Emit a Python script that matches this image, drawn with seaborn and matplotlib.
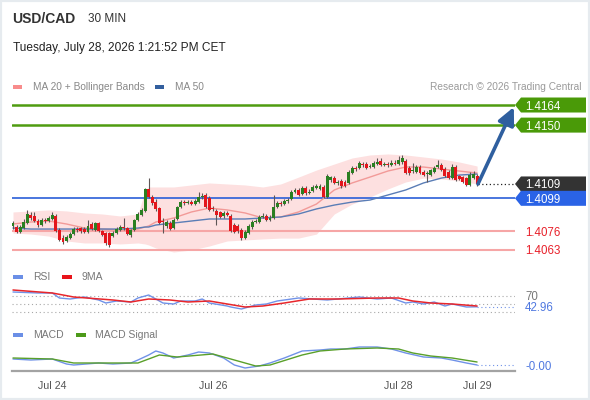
import numpy as np
import pandas as pd
import matplotlib
matplotlib.use("Agg")
import matplotlib.pyplot as plt
import matplotlib.transforms as mtransforms
from matplotlib.patches import Rectangle, Polygon, FancyArrowPatch
import seaborn as sns

sns.set_style("white")
plt.rcParams["font.family"] = ["Liberation Sans", "DejaVu Sans"]

# ---------------- data ----------------
open_ = [1.40797, 1.40790, 1.40755, 1.40783, 1.40818, 1.40874, 1.40867, 1.40832, 1.40804, 1.40839,
         1.40832, 1.40846, 1.40867, 1.40769, 1.40713, 1.40693, 1.40713, 1.40741, 1.40776, 1.40783,
         1.40776, 1.40755, 1.40811, 1.40769, 1.40818, 1.40762, 1.40748, 1.40748, 1.40727, 1.40748,
         1.40769, 1.40790, 1.40783, 1.40734, 1.40769, 1.40839, 1.40874, 1.40902, 1.41055, 1.40999,
         1.40964, 1.40922, 1.40832, 1.40797, 1.40818, 1.40783, 1.40846, 1.40929, 1.40964, 1.40957,
         1.40964, 1.40950, 1.40964, 1.40999, 1.41013, 1.40992, 1.40922, 1.40902, 1.40895, 1.40867,
         1.40888, 1.40867, 1.40804, 1.40797, 1.40769, 1.40713, 1.40748, 1.40790, 1.40825, 1.40825,
         1.40860, 1.40867, 1.40839, 1.40853, 1.40929, 1.40957, 1.40950, 1.40971, 1.40985, 1.41034,
         1.41048, 1.41020, 1.41062, 1.41027, 1.41041, 1.41062, 1.41055, 1.41069, 1.40999, 1.41118,
         1.41131, 1.41097, 1.41111, 1.41104, 1.41097, 1.41166, 1.41201, 1.41201, 1.41229, 1.41229,
         1.41208, 1.41208, 1.41229, 1.41250, 1.41222, 1.41229, 1.41222, 1.41236, 1.41229, 1.41243,
         1.41250, 1.41201, 1.41180, 1.41173, 1.41208, 1.41173, 1.41159, 1.41152, 1.41173, 1.41208,
         1.41222, 1.41194, 1.41173, 1.41131, 1.41208, 1.41145, 1.41138, 1.41131, 1.41083, 1.41131, 1.41145]
high = [1.40832, 1.40804, 1.40804, 1.40846, 1.40909, 1.40895, 1.40895, 1.40846, 1.40853, 1.40853,
        1.40867, 1.40895, 1.40881, 1.40783, 1.40734, 1.40734, 1.40755, 1.40790, 1.40790, 1.40790,
        1.40790, 1.40839, 1.40825, 1.40825, 1.40825, 1.40769, 1.40755, 1.40755, 1.40762, 1.40790,
        1.40804, 1.40853, 1.40790, 1.40776, 1.40846, 1.40895, 1.40922, 1.41062, 1.41131, 1.41013,
        1.40985, 1.40929, 1.40853, 1.40839, 1.40832, 1.40853, 1.40936, 1.40978, 1.40978, 1.40978,
        1.40978, 1.40985, 1.41034, 1.41027, 1.41027, 1.41006, 1.40936, 1.40916, 1.40902, 1.40902,
        1.40902, 1.40881, 1.40818, 1.40811, 1.40783, 1.40769, 1.40811, 1.40839, 1.40846, 1.40874,
        1.40888, 1.40881, 1.40874, 1.41013, 1.40971, 1.40971, 1.40985, 1.40992, 1.41048, 1.41062,
        1.41062, 1.41076, 1.41076, 1.41055, 1.41083, 1.41090, 1.41090, 1.41083, 1.41159, 1.41145,
        1.41145, 1.41118, 1.41125, 1.41118, 1.41187, 1.41215, 1.41215, 1.41250, 1.41243, 1.41243,
        1.41229, 1.41250, 1.41271, 1.41271, 1.41243, 1.41243, 1.41257, 1.41257, 1.41285, 1.41292,
        1.41264, 1.41215, 1.41236, 1.41222, 1.41222, 1.41187, 1.41180, 1.41194, 1.41215, 1.41257,
        1.41236, 1.41208, 1.41187, 1.41229, 1.41222, 1.41152, 1.41145, 1.41138, 1.41173, 1.41180, 1.41159]
low = [1.40776, 1.40748, 1.40748, 1.40776, 1.40811, 1.40839, 1.40825, 1.40790, 1.40797, 1.40818,
       1.40825, 1.40839, 1.40755, 1.40693, 1.40672, 1.40686, 1.40707, 1.40734, 1.40755, 1.40748,
       1.40748, 1.40748, 1.40769, 1.40762, 1.40755, 1.40727, 1.40665, 1.40651, 1.40720, 1.40741,
       1.40762, 1.40769, 1.40734, 1.40720, 1.40762, 1.40832, 1.40867, 1.40895, 1.40992, 1.40943,
       1.40902, 1.40811, 1.40748, 1.40783, 1.40769, 1.40776, 1.40839, 1.40922, 1.40943, 1.40950,
       1.40943, 1.40943, 1.40957, 1.40985, 1.40922, 1.40902, 1.40902, 1.40804, 1.40853, 1.40853,
       1.40867, 1.40755, 1.40748, 1.40748, 1.40700, 1.40707, 1.40741, 1.40776, 1.40818, 1.40818,
       1.40853, 1.40832, 1.40832, 1.40846, 1.40922, 1.40936, 1.40943, 1.40957, 1.40978, 1.41027,
       1.41006, 1.41013, 1.41013, 1.41020, 1.41034, 1.41055, 1.41048, 1.40992, 1.40992, 1.41104,
       1.41090, 1.41083, 1.41062, 1.41069, 1.41090, 1.41159, 1.41180, 1.41194, 1.41208, 1.41194,
       1.41201, 1.41201, 1.41222, 1.41215, 1.41215, 1.41208, 1.41215, 1.41222, 1.41222, 1.41229,
       1.41159, 1.41152, 1.41166, 1.41166, 1.41159, 1.41145, 1.41104, 1.41145, 1.41166, 1.41201,
       1.41180, 1.41138, 1.41125, 1.41125, 1.41111, 1.41118, 1.41097, 1.41076, 1.41076, 1.41125, 1.41076]
close = [1.40818, 1.40755, 1.40790, 1.40825, 1.40881, 1.40853, 1.40832, 1.40804, 1.40839, 1.40832,
         1.40853, 1.40874, 1.40762, 1.40700, 1.40686, 1.40720, 1.40741, 1.40776, 1.40769, 1.40762,
         1.40755, 1.40797, 1.40776, 1.40818, 1.40762, 1.40734, 1.40679, 1.40665, 1.40748, 1.40776,
         1.40790, 1.40783, 1.40741, 1.40769, 1.40839, 1.40881, 1.40909, 1.41055, 1.40999, 1.40957,
         1.40916, 1.40818, 1.40825, 1.40825, 1.40776, 1.40839, 1.40929, 1.40964, 1.40957, 1.40964,
         1.40950, 1.40971, 1.40999, 1.41006, 1.40929, 1.40909, 1.40916, 1.40874, 1.40860, 1.40888,
         1.40874, 1.40762, 1.40755, 1.40762, 1.40713, 1.40755, 1.40797, 1.40825, 1.40832, 1.40860,
         1.40867, 1.40839, 1.40853, 1.40929, 1.40957, 1.40950, 1.40971, 1.40978, 1.41034, 1.41048,
         1.41013, 1.41062, 1.41027, 1.41034, 1.41069, 1.41076, 1.41076, 1.40999, 1.41145, 1.41138,
         1.41097, 1.41104, 1.41076, 1.41076, 1.41173, 1.41201, 1.41194, 1.41236, 1.41222, 1.41201,
         1.41215, 1.41236, 1.41243, 1.41222, 1.41229, 1.41222, 1.41236, 1.41229, 1.41257, 1.41271,
         1.41166, 1.41166, 1.41187, 1.41208, 1.41166, 1.41152, 1.41166, 1.41187, 1.41201, 1.41222,
         1.41187, 1.41145, 1.41131, 1.41208, 1.41118, 1.41125, 1.41104, 1.41083, 1.41152, 1.41159, 1.41090]

# indicator readings (sampled at candle indices)
ind_idx = [0, 5, 10, 15, 20, 25, 30, 35, 37, 38, 40, 45, 50, 55, 60, 65, 70, 75, 80, 85,
           90, 95, 100, 105, 110, 115, 120, 125, 130]
ma20 = [1.40811, 1.40825, 1.40832, 1.40811, 1.40783, 1.40776, 1.40769, 1.40776, 1.40790, 1.40797,
        1.40825, 1.40853, 1.40895, 1.40922, 1.40909, 1.40888, 1.40853, 1.40860, 1.40895, 1.40950,
        1.41048, 1.41097, 1.41138, 1.41180, 1.41208, 1.41208, 1.41194, 1.41180, 1.41166]
ma50 = [1.40783, 1.40776, 1.40776, 1.40776, 1.40776, 1.40776, 1.40776, 1.40783, 1.40790, 1.40790,
        1.40804, 1.40818, 1.40832, 1.40846, 1.40846, 1.40846, 1.40853, 1.40860, 1.40881, 1.40916,
        1.40943, 1.40964, 1.40978, 1.41013, 1.41048, 1.41097, 1.41131, 1.41152, 1.41159]
bb_upper = [1.40895, 1.40902, 1.40909, 1.40902, 1.40888, 1.40881, 1.40867, 1.40881, 1.41041, 1.41069,
            1.41069, 1.41069, 1.41083, 1.41097, 1.41090, 1.41083, 1.41069, 1.41090, 1.41138, 1.41187,
            1.41229, 1.41271, 1.41292, 1.41299, 1.41292, 1.41278, 1.41264, 1.41243, 1.41215]
bb_lower = [1.40748, 1.40741, 1.40727, 1.40693, 1.40679, 1.40679, 1.40672, 1.40679, 1.40672, 1.40665,
            1.40644, 1.40616, 1.40630, 1.40658, 1.40693, 1.40700, 1.40707, 1.40713, 1.40713, 1.40741,
            1.40881, 1.40950, 1.40999, 1.41055, 1.41104, 1.41131, 1.41125, 1.41111, 1.41090]

target_levels = [1.4164, 1.4150]
last_price = 1.4109
pivot_level = 1.4099
support_levels = [1.4076, 1.4063]

rsi_idx = [0, 7, 11, 13, 16, 20, 24, 26, 29, 33, 35, 38, 40, 42, 45, 47, 51, 53, 55, 60,
           61, 64, 68, 71, 74, 80, 84, 88, 91, 97, 102, 106, 110, 112, 115, 118, 121, 123, 127, 130]
rsi = [80, 77.5, 77.5, 65, 62.5, 67.5, 60, 52.5, 57.5, 55, 65, 72.5, 62.5, 52.5, 50, 57.5, 57.5,
       62.5, 52.5, 45, 42.5, 37.5, 47.5, 50, 57.5, 65, 62.5, 60, 62.5, 67.5, 62.5, 65, 52.5, 55,
       50, 55, 45, 50, 42.5, 42.96]
rsi_ma_idx = [0, 11, 17, 28, 33, 38, 44, 49, 55, 60, 65, 70, 76, 83, 91, 102, 108, 112, 117, 123, 130]
rsi_ma9 = [85, 77.5, 67.5, 60, 55, 62.5, 60, 55, 57.5, 50, 42.5, 45, 52.5, 62.5, 62.5, 65, 65,
           57.5, 52.5, 50, 45]
rsi_levels = [70, 50, 30]

macd_idx = [0, 5, 11, 15, 17, 24, 28, 33, 35, 38, 40, 42, 45, 49, 52, 55, 59, 62, 65, 69,
            72, 76, 81, 86, 89, 93, 97, 102, 106, 110, 115, 120, 123, 127, 130]
macd = [0.00005, 0.00004, 0.00005, 0.0, -0.00001, 0.00001, 0.0, 0.00001, 0.00004, 0.00009,
        0.00013, 0.00011, 0.00006, 0.00009, 0.00012, 0.00011, 0.00006, -0.00001, -0.00004, -0.00002,
        0.00001, 0.00006, 0.00013, 0.00014, 0.00015, 0.00015, 0.00017, 0.00017, 0.00015, 0.00011,
        0.00007, 0.00006, 0.00004, 0.00001, -0.00001]
signal_idx = [0, 11, 17, 28, 35, 41, 46, 56, 62, 68, 72, 81, 86, 93, 102, 108, 112, 117, 123, 130]
macd_signal = [0.00006, 0.00005, 0.00001, 0.00001, 0.00001, 0.00009, 0.00007, 0.00010, 0.00004,
               -0.00002, -0.00001, 0.00009, 0.00013, 0.00015, 0.00016, 0.00015, 0.00011, 0.00008,
               0.00006, 0.00002]

date_pos = [11, 56, 108, 130]
date_labels = ["Jul 24", "Jul 26", "Jul 28", "Jul 29"]

# ---------------- styling ----------------
W, H = 590, 400
GREEN_C, RED_C = "#2a7f22", "#e3161c"
LEVEL_GREEN = "#4f9c10"
BLUE_LVL = "#2a5fd8"
TXT = "#333333"

fig = plt.figure(figsize=(W / 100, H / 100), dpi=100)
fig.patch.set_facecolor("white")


def rect(x0, y0, x1, y1):
    return [x0 / W, 1 - y1 / H, (x1 - x0) / W, (y1 - y0) / H]


XLIM = (-0.28, 140.62)

# ---------------- price panel ----------------
ax = fig.add_axes(rect(12, 95, 515, 262))
ax.set_xlim(*XLIM)
ax.set_ylim(1.405464, 1.417097)
ax.axis("off")

ind = pd.DataFrame({"i": ind_idx, "ma20": ma20, "ma50": ma50,
                    "up": bb_upper, "lo": bb_lower})
ax.fill_between(ind["i"], ind["lo"], ind["up"], color="#fde0e0", lw=0, zorder=1)

for lv in target_levels:
    ax.axhline(lv, color=LEVEL_GREEN, lw=1.8, zorder=2)
ax.axhline(pivot_level, color=BLUE_LVL, lw=1.2, zorder=2)
for lv in support_levels:
    ax.axhline(lv, color="#f6a6a6", lw=1.5, zorder=2)

sns.lineplot(data=ind, x="i", y="ma20", ax=ax, color="#f29a98", lw=1, legend=False, zorder=2.5)
sns.lineplot(data=ind, x="i", y="ma50", ax=ax, color="#5a7db6", lw=1, legend=False, zorder=2.5)

candles = pd.DataFrame({"o": open_, "h": high, "l": low, "c": close})
candles["i"] = np.arange(len(candles))
up = candles["c"] >= candles["o"]
cols = np.where(up, GREEN_C, RED_C)
ax.vlines(candles["i"], candles["l"], candles["h"], color="#5e5656", lw=0.8, zorder=3)
body = (candles["c"] - candles["o"]).abs()
hgt = np.maximum(body, 0.00003)
bottom = np.minimum(candles["o"], candles["c"]) - (hgt - body) / 2
ax.bar(candles["i"], hgt, bottom=bottom, width=0.82, color=cols, lw=0, zorder=4)

last_i = candles["i"].iloc[-1]
ax.plot([last_i + 0.3, XLIM[1]], [last_price, last_price], color="#222222",
        ls=(0, (1, 2)), lw=0.9, zorder=3)

arrow = FancyArrowPatch((last_i + 0.25, close[-1]), (140.3, 1.41626),
                        arrowstyle="-|>,head_length=0.75,head_width=0.36",
                        mutation_scale=14, color="#2f5f9f", lw=2.6,
                        shrinkA=0, shrinkB=0, zorder=8, clip_on=False)
ax.add_patch(arrow)


def tag(axx, y, text, fc, half_px=7.5):
    tr = mtransforms.blended_transform_factory(fig.transFigure, axx.transData)
    y0, y1 = axx.get_ylim()
    hpx = axx.get_position().height * H
    hh = half_px * (y1 - y0) / hpx
    pts = [(515 / W, y), (521 / W, y + hh), (586 / W, y + hh),
           (586 / W, y - hh), (521 / W, y - hh)]
    axx.add_patch(Polygon(pts, closed=True, transform=tr, facecolor=fc,
                          edgecolor="none", clip_on=False, zorder=6))
    axx.text(525 / W, y, text, transform=tr, color="white", fontsize=8.3,
             va="center_baseline", ha="left", zorder=7, clip_on=False)


def side_text(axx, y, text, color, bg=None):
    tr = mtransforms.blended_transform_factory(fig.transFigure, axx.transData)
    kw = {}
    if bg:
        kw["bbox"] = dict(facecolor=bg, edgecolor="none", pad=1.0)
    axx.text(525 / W, y, text, transform=tr, color=color, fontsize=8.3,
             va="center_baseline", ha="left", zorder=7, clip_on=False, **kw)


for lv in target_levels:
    tag(ax, lv, f"{lv:.4f}", "#4a9a08")
tag(ax, last_price, f"{last_price:.4f}", "#333333")
tag(ax, pivot_level, f"{pivot_level:.4f}", "#2a63e6")
for lv in support_levels:
    side_text(ax, lv, f"{lv:.4f}", "#e8202a")

# ---------------- RSI panel ----------------
axr = fig.add_axes(rect(12, 287, 515, 318))
axr.set_xlim(*XLIM)
axr.set_ylim(15, 92.5)
axr.axis("off")
for lv in rsi_levels:
    axr.axhline(lv, color="#a8a8a8", ls=(0, (1, 2.5)), lw=0.8, zorder=1)
sns.lineplot(x=rsi_idx, y=rsi, ax=axr, color="#7092e8", lw=1, zorder=2)
sns.lineplot(x=rsi_ma_idx, y=rsi_ma9, ax=axr, color="#e8262b", lw=1.1, zorder=3)
axr.plot([rsi_idx[-1], XLIM[1]], [rsi[-1], rsi[-1]], color="#7092e8",
         ls=(0, (1, 2.5)), lw=0.8)
side_text(axr, 70, "70", "#777777")
side_text(axr, 30, "30", "#777777")
side_text(axr, rsi[-1], f"{rsi[-1]:.2f}", "#4f78e0", bg="white")

# ---------------- MACD panel ----------------
axm = fig.add_axes(rect(12, 340, 515, 371))
axm.patch.set_alpha(0)
sns.lineplot(x=macd_idx, y=macd, ax=axm, color="#7092e8", lw=1, zorder=2)
sns.lineplot(x=signal_idx, y=macd_signal, ax=axm, color="#5aa02a", lw=1, zorder=3)
axm.plot([macd_idx[-1], XLIM[1]], [macd[-1], macd[-1]], color="#7092e8",
         ls=(0, (1, 2.5)), lw=0.8)
for sp in ["top", "left", "right"]:
    axm.spines[sp].set_visible(False)
axm.spines["bottom"].set_color("#a3a3a3")
axm.spines["bottom"].set_linewidth(1.6)
axm.set_yticks([])
axm.set_xlabel("")
axm.set_ylabel("")
axm.set_xticks(list(XLIM), labels=["", ""])
axm.set_xticks(date_pos, labels=date_labels, minor=True)
axm.tick_params(axis="x", which="major", length=6, width=1.6, color="#a3a3a3", direction="out")
axm.tick_params(axis="x", which="minor", length=0, pad=7, labelsize=7.7, labelcolor="#555555")
axm.set_xlim(*XLIM)
axm.set_ylim(-0.00007, 0.00024)
side_text(axm, macd[-1], f"{macd[-1]:.2f}" if macd[-1] >= 0 else "-0.00", "#4f78e0", bg="white")

# ---------------- header, legends ----------------
def ftext(x, y, s, **kw):
    fig.text(x / W, 1 - y / H, s, va="center", ha=kw.pop("ha", "left"), **kw)


def fpatch(x, y, w, h, color):
    fig.add_artist(Rectangle((x / W, 1 - (y + h) / H), w / W, h / H,
                             transform=fig.transFigure, color=color, lw=0))


ftext(12, 19, "USD/CAD", fontsize=10, fontweight="bold", color=TXT)
ftext(88, 18.5, "30 MIN", fontsize=8.5, color=TXT)
ftext(13, 48, "Tuesday, July 28, 2026 1:21:52 PM CET", fontsize=8.6, color="#222222")

fpatch(13, 84.5, 9, 4, "#f88c8c")
ftext(33, 86.5, "MA 20 + Bollinger Bands", fontsize=7.3, color="#888888")
fpatch(155, 84.5, 9, 4, "#335f9e")
ftext(175, 86.5, "MA 50", fontsize=7.3, color="#888888")
ftext(582, 86.5, "Research \u00a9 2026 Trading Central", fontsize=7.3, color="#9a9a9a", ha="right")

fpatch(13, 274.5, 10, 4, "#6b8fe6")
ftext(33, 276.5, "RSI", fontsize=7.5, color="#777777")
fpatch(62, 274.5, 10, 4, "#e8141b")
ftext(82, 276.5, "9MA", fontsize=7.5, color="#777777")

fpatch(13, 332.5, 10, 4, "#6b8fe6")
ftext(33, 334.5, "MACD", fontsize=7.5, color="#777777")
fpatch(76, 332.5, 10, 4, "#4d9a1a")
ftext(95, 334.5, "MACD Signal", fontsize=7.5, color="#777777")

fig.add_artist(Rectangle((0, 0), 1, 1, transform=fig.transFigure, fill=False,
                         edgecolor="#e6ebef", lw=3))

fig.savefig("out.png", dpi=100, facecolor="white")
